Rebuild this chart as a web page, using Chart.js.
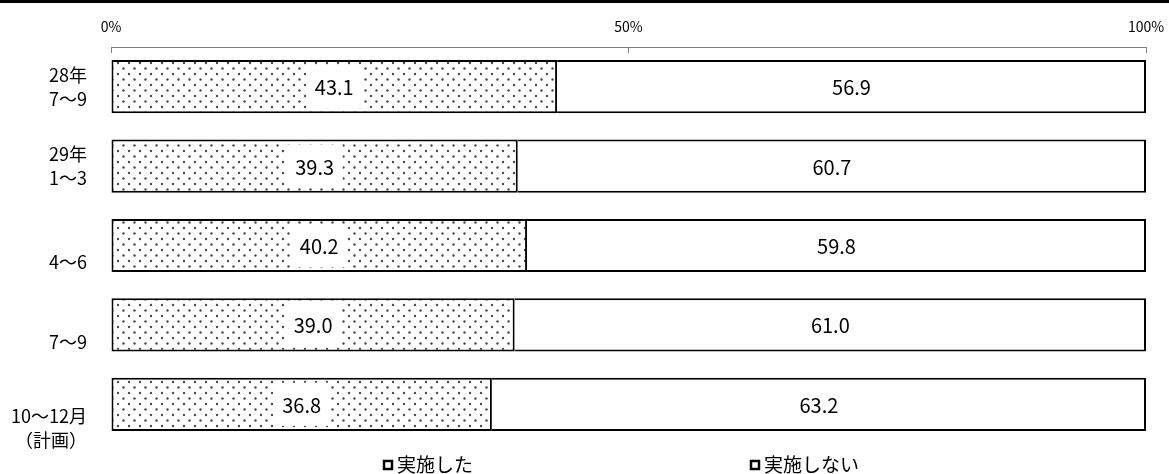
<!DOCTYPE html>
<html lang="ja">
<head>
<meta charset="utf-8">
<script src="https://cdn.jsdelivr.net/npm/chart.js@4.4.1/dist/chart.umd.min.js"></script>
<style>
  html, body { margin: 0; padding: 0; background: #fff; }
  #wrap { position: relative; width: 1169px; height: 474px; }
  #topline { position: absolute; left: 0; top: 0; width: 1169px; height: 3px; background: #000; }
</style>
</head>
<body>
<div id="wrap">
  <canvas id="chart" width="1169" height="474"></canvas>
  <div id="topline"></div>
</div>
<script>
// データ
const categories = [['28年', '7～9'], ['29年', '1～3'], ['4～6'], ['7～9'], ['10～12月', '（計画）']];
const seriesNames = ['実施した', '実施しない'];
const doneValues = [43.1, 39.3, 40.2, 39.0, 36.8];
const notDoneValues = [56.9, 60.7, 59.8, 61.0, 63.2];
const percentTicks = [0, 50, 100];

const FONT = '"Noto Sans CJK JP", "Noto Sans", sans-serif';
Chart.defaults.font.family = FONT;
Chart.defaults.color = '#000';

// 網掛け（ドット）パターン
function makeDots() {
    const tile = document.createElement('canvas');
    tile.width = 11;
    tile.height = 11;
    const t = tile.getContext('2d');
    t.fillStyle = '#fff';
    t.fillRect(0, 0, 11, 11);
    t.fillStyle = '#4a4a4a';
    t.beginPath(); t.arc(2.5, 2.5, 1.2, 0, Math.PI * 2); t.fill();
    t.beginPath(); t.arc(8, 8, 1.2, 0, Math.PI * 2); t.fill();
    return t.createPattern(tile, 'repeat');
}

// 軸の余白を消す
function noPad(scale) {
    scale.paddingTop = 0;
    scale.paddingBottom = 0;
    scale.paddingLeft = 0;
    scale.paddingRight = 0;
}

// 棒の中の数値
const valueLabels = {
    id: 'valueLabels',
    afterDatasetsDraw(chart) {
        const ctx = chart.ctx;
        ctx.save();
        ctx.font = '20px ' + FONT;
        ctx.textAlign = 'center';
        ctx.textBaseline = 'middle';
        chart.data.datasets.forEach((ds, di) => {
            chart.getDatasetMeta(di).data.forEach((bar, i) => {
                const cx = (bar.x + bar.base) / 2;
                if (di === 0) {
                    ctx.fillStyle = '#fff';
                    ctx.fillRect(cx - 28, bar.y - bar.height / 2 + 5, 56, bar.height - 10);
                }
                ctx.fillStyle = '#000';
                ctx.fillText(ds.data[i].toFixed(1), cx, bar.y + 1);
            });
        });
        ctx.restore();
    }
};

// 凡例
const bottomLegend = {
    id: 'bottomLegend',
    afterDraw(chart, args, opts) {
        const ctx = chart.ctx;
        ctx.save();
        ctx.font = '19px ' + FONT;
        ctx.textBaseline = 'middle';
        ctx.textAlign = 'left';
        chart.data.datasets.forEach((ds, i) => {
            const x = opts.x[i];
            const y = opts.y;
            ctx.fillStyle = '#fff';
            ctx.fillRect(x, y - 5, 10, 10);
            ctx.strokeStyle = '#000';
            ctx.lineWidth = 2.5;
            ctx.strokeRect(x + 1, y - 4, 8, 8);
            ctx.fillStyle = '#000';
            ctx.fillText(ds.label, x + 14, y);
        });
        ctx.restore();
    }
};

const yLead = [0, 0, 1, 1, 2];
const yLineHeight = [24, 24, 34, 34, 24];

new Chart(document.getElementById('chart'), {
    type: 'bar',
    data: {
        labels: categories,
        datasets: [
            {
                label: seriesNames[0],
                data: doneValues,
                backgroundColor: makeDots(),
                borderColor: '#000',
                borderWidth: { top: 2, bottom: 2, left: 2, right: 2 },
                borderSkipped: false
            },
            {
                label: seriesNames[1],
                data: notDoneValues,
                backgroundColor: '#fff',
                borderColor: '#000',
                borderWidth: { top: 2, bottom: 2, left: 0, right: 2 },
                borderSkipped: false
            }
        ]
    },
    options: {
        indexAxis: 'y',
        responsive: false,
        animation: false,
        layout: { padding: { left: 0, right: 23, top: 0, bottom: 30 } },
        datasets: { bar: { categoryPercentage: 1, barPercentage: 0.67 } },
        plugins: {
            legend: { display: false },
            tooltip: { enabled: false },
            bottomLegend: { x: [383, 750], y: 465 }
        },
        scales: {
            x: {
                position: 'top',
                stacked: true,
                min: 0,
                max: 100,
                afterBuildTicks: (scale) => { scale.ticks = percentTicks.map(v => ({ value: v })); },
                afterFit: (scale) => { scale.height = 47; noPad(scale); },
                grid: { drawOnChartArea: false, drawTicks: true, tickLength: -6, color: '#808080' },
                border: { display: true, color: '#808080', width: 1 },
                ticks: {
                    padding: 18,
                    color: '#000',
                    maxRotation: 0,
                    font: { family: FONT, size: 14 },
                    callback: (v) => v + '%'
                }
            },
            y: {
                stacked: true,
                afterFit: (scale) => { scale.width = 111; noPad(scale); },
                grid: { display: false },
                border: { display: false },
                ticks: {
                    padding: 16,
                    color: '#000',
                    autoSkip: false,
                    font: (c) => ({ family: FONT, size: 18, lineHeight: (yLineHeight[c.index] || 24) + 'px' }),
                    callback: (v, i) => Array(yLead[i]).fill('').concat(categories[i])
                }
            }
        }
    },
    plugins: [valueLabels, bottomLegend]
});
</script>
</body>
</html>
